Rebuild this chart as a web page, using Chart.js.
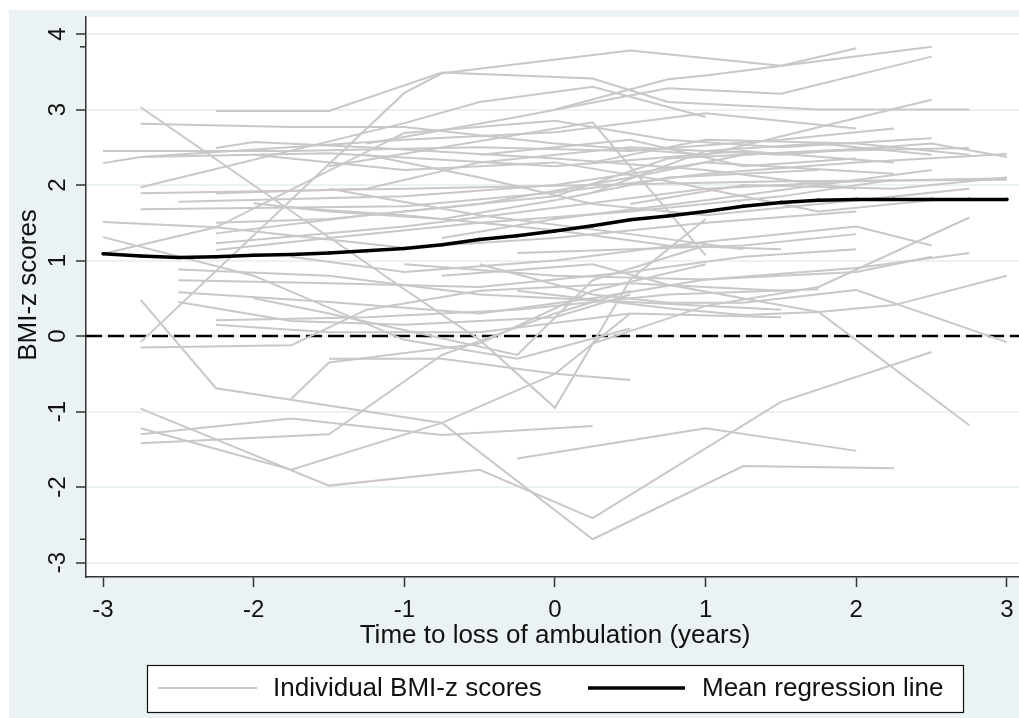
<!DOCTYPE html>
<html>
<head>
<meta charset="utf-8">
<script src="https://cdn.jsdelivr.net/npm/chart.js@4.4.1/dist/chart.umd.min.js"></script>
<style>
  html, body { margin: 0; padding: 0; background: #fff; }
  #wrap { width: 1019px; height: 718px; }
</style>
</head>
<body>
<div id="wrap"><canvas id="bmiChart" width="1019" height="718"></canvas></div>
<script>
// Tiempo hasta la pérdida de la marcha (años) de cada paciente
const subjectTimes = [
  [-2.75, -1, -0.5, 0, 0.5, 1],
  [-2.75, -1, -0.75, 0.5, 1.5, 2],
  [-2.25, -1.5, -0.75, 0.25, 0.75, 1.75, 2.75],
  [-2.75, -1.75, -1, 0, 1, 2.5],
  [0, 0.75, 1, 2.5],
  [-1.25, -0.25, 0.75, 1.5, 2.5],
  [-1.5, 0.25, 1],
  [-3, -1.75, -0.5, 0.5, 1.5, 2.25],
  [-3, -2.75, -1, 0, 1, 2],
  [-2.75, -1, -0.5, 0.25, 1],
  [-2.25, -2, -1.25, 0, 1, 2],
  [-3, -2.25, -1, 0, 0.75, 1.5, 2.5],
  [-2.75, -1.5, 0, 1.25, 2.25],
  [-2.75, -1, 0.25, 1.5, 3],
  [-2.75, -1, 0, 1, 2, 3],
  [-2.5, -1, 0, 1, 2.25],
  [-2.25, -1.25, -0.5, 0.5, 1.5, 2.5, 3],
  [-2, -1.5, -0.75, 0, 0.75, 1.75],
  [-2.25, -1.5, -0.5, 0.5, 1.25, 2.25],
  [-2.25, -1.25, 0, 0.75, 1.75, 2.75],
  [-2.25, -1, 0, 1, 2, 3],
  [-2.25, -1.5, -0.5, 0.5, 1.5, 2.25],
  [-3, -2.25, -1, 0, 1, 2],
  [-1.75, -1, 0, 0.75, 1.5],
  [-1.5, -0.5, 0.5, 1.25],
  [-1.25, -0.5, 0.25, 1, 2, 2.75],
  [-0.75, 0, 1, 1.75, 2.5],
  [-2, -1, 0, 0.75, 1.75, 2.5],
  [-0.5, 0.5, 1.25, 2],
  [0.25, 1, 1.75, 2.5],
  [-3, -2, -1, -0.25, 0.5],
  [-2.5, -1.5, -0.5, 0.5, 1.5],
  [-2.5, -1.5, -0.5, 0.5, 1.25, 2],
  [-2.5, -1.5, -0.5, 0.25, 1, 2, 2.75],
  [-2.5, -1.75, -1, 0, 0.5],
  [-2.25, -1.25, -0.25, 0.75, 1.75],
  [-2.25, -1.5, -0.5, 0.5, 1.5],
  [-2.75, -1.75, -1.25, -0.5, 0.5, 1.5],
  [-2.75, -2.25, -0.75, 0.25, 1.25, 2.25],
  [-2.75, -1.5, -0.5, 0.25, 1.5, 2.5],
  [-2.75, -1.75, -0.75, 0, 0.5],
  [-2.75, -1.75, -0.75, 0.25],
  [-2.75, -1.5, -0.75, 0, 0.5],
  [-1.75, -1.5, -0.5, 0.25, 1],
  [-0.25, 1, 2],
  [-2, -1.5, -0.25, 0.25, 1],
  [-1.5, -0.75, 0, 0.5],
  [-0.75, 0.25, 0.75, 1.75, 2.75],
  [-0.5, 0.25, 0.75, 1.25, 2, 3],
  [-0.25, 0.75, 1.25, 1.75, 2.25, 3],
  [0.25, 1, 1.75, 2.75],
  [-1, 0, 1, 2, 2.5],
  [-0.25, 0.5, 1.25, 2],
  [0.5, 1.25, 2.25, 3],
  [-1.75, -1, 0, 1, 2, 2.5],
  [0.25, 1, 2, 2.75]
];

// Puntuaciones BMI-z de cada paciente (mismo orden que subjectTimes)
const subjectScores = [
  [3.03, 0.62, -0.05, -0.95, 0.75, 1.55],
  [-0.08, 3.22, 3.48, 3.78, 3.58, 3.81],
  [2.98, 2.98, 3.49, 3.41, 3.1, 3.0, 3.0],
  [2.81, 2.77, 2.77, 2.55, 2.4, 3.13],
  [3.0, 3.4, 3.45, 3.83],
  [2.55, 2.9, 3.28, 3.21, 3.7],
  [2.25, 2.83, 1.07],
  [2.45, 2.45, 2.5, 2.45, 2.6, 2.75],
  [2.29, 2.37, 2.6, 2.7, 2.95, 2.75],
  [1.97, 2.82, 3.1, 3.3, 2.9],
  [2.49, 2.57, 2.5, 2.35, 2.2, 1.95],
  [1.09, 1.44, 2.69, 2.85, 2.6, 2.5, 2.62],
  [2.37, 2.42, 2.25, 2.45, 2.3],
  [1.89, 1.95, 2.0, 2.05, 2.07],
  [1.68, 1.72, 1.9, 2.15, 2.3, 2.41],
  [1.78, 1.85, 2.0, 2.3, 2.15],
  [1.89, 1.95, 2.3, 2.5, 2.4, 2.55, 2.37],
  [1.76, 1.65, 1.55, 1.8, 2.1, 2.2],
  [1.5, 1.55, 1.75, 2.1, 2.4, 2.5],
  [1.36, 1.6, 1.85, 2.35, 2.45, 2.49],
  [1.23, 1.45, 1.7, 1.95, 2.05, 2.09],
  [1.14, 1.3, 1.5, 1.65, 1.85, 2.07],
  [1.51, 1.44, 1.17, 1.3, 1.5, 1.65],
  [1.7, 1.6, 1.4, 1.2, 1.15],
  [1.95, 1.6, 1.35, 1.15],
  [2.4, 2.1, 1.75, 1.6, 1.8, 1.95],
  [1.3, 1.55, 1.8, 2.0, 2.2],
  [2.4, 2.2, 2.3, 2.05, 1.65, 1.8],
  [2.4, 2.6, 2.25, 2.35],
  [1.9, 2.45, 2.55, 2.4],
  [1.31, 0.8, -0.05, -0.3, 0.1],
  [0.88, 0.8, 0.55, 0.45, 0.35],
  [0.74, 0.7, 0.65, 0.85, 1.05, 1.15],
  [0.58, 0.45, 0.3, 0.5, 0.75, 0.9, 1.1],
  [0.45, 0.2, 0.15, 0.25, 0.55],
  [0.21, 0.25, 0.35, 0.55, 0.62],
  [0.15, 0.05, 0.05, 0.3, 0.25],
  [-0.15, -0.12, 0.35, 0.6, 0.7, 0.6],
  [0.48, -0.69, -1.15, -2.69, -1.72, -1.75],
  [-0.96, -1.98, -1.77, -2.41, -0.87, -0.21],
  [-1.22, -1.77, -1.15, -0.5, 0.3],
  [-1.3, -1.09, -1.31, -1.19],
  [-1.42, -1.3, -0.25, 0.3, 0.6],
  [-0.83, -0.35, -0.1, 0.6, 0.95],
  [-1.62, -1.22, -1.52],
  [0.5, 0.3, -0.25, 0.74, 1.2],
  [-0.3, -0.3, -0.5, -0.58],
  [0.8, 0.95, 0.68, 0.32, -1.18],
  [0.95, 0.55, 0.44, 0.44, 0.61, -0.08],
  [0.6, 0.37, 0.28, 0.32, 0.41, 0.8],
  [-0.1, 0.4, 0.65, 1.57],
  [0.95, 0.8, 0.75, 0.85, 1.05],
  [1.1, 1.15, 1.2, 1.35],
  [1.75, 2.0, 1.95, 2.1],
  [1.05, 0.85, 1.0, 1.25, 1.45, 1.2],
  [2.3, 2.6, 2.55, 2.4]
];

// Línea de regresión media
const meanTimes = [-3, -2.75, -2.5, -2.25, -2, -1.75, -1.5, -1.25, -1, -0.75, -0.5, -0.25, 0,
                   0.25, 0.5, 0.75, 1, 1.25, 1.5, 1.75, 2, 2.25, 2.5, 2.75, 3];
const meanScores = [1.09, 1.06, 1.04, 1.05, 1.07, 1.08, 1.1, 1.13, 1.16, 1.21, 1.28, 1.33, 1.39,
                    1.46, 1.54, 1.59, 1.65, 1.72, 1.77, 1.8, 1.81, 1.81, 1.81, 1.81, 1.81];

// Marcas de los ejes
const xTicks = [-3, -2, -1, 0, 1, 2, 3];
const yTicks = [-3, -2, -1, 0, 1, 2, 3, 4];
const referenceScore = 0;

const FONT = "'Liberation Sans', Arial, sans-serif";
const TEXT = '#111111';

// Conjuntos de datos individuales
const individualDatasets = subjectTimes.map(function(times, i) {
  return {
    label: 'Individual BMI-z scores',
    data: times.map(function(t, j) { return { x: t, y: subjectScores[i][j] }; }),
    borderColor: '#c8c8c8',
    borderWidth: 2,
    pointRadius: 0,
    showLine: true,
    fill: false,
    order: 1
  };
});

const meanDataset = {
  label: 'Mean regression line',
  data: meanTimes.map(function(t, j) { return { x: t, y: meanScores[j] }; }),
  borderColor: '#000000',
  backgroundColor: '#000000',
  borderWidth: 3.5,
  pointRadius: 1.8,
  pointBorderWidth: 0,
  showLine: true,
  fill: false,
  order: 0
};

// Fondo estilo Stata
const backgroundPlugin = {
  id: 'stataBackground',
  beforeDraw: function(chart) {
    const ctx = chart.ctx;
    const area = chart.chartArea;
    ctx.save();
    ctx.fillStyle = '#ffffff';
    ctx.fillRect(0, 0, chart.width, chart.height);
    ctx.fillStyle = '#eaf2f3';
    ctx.fillRect(9, 10, chart.width - 9, chart.height - 10);
    ctx.fillStyle = '#ffffff';
    ctx.fillRect(area.left, area.top, area.right - area.left, area.bottom - area.top);
    ctx.restore();
  },
  beforeDatasetsDraw: function(chart) {
    // Línea de referencia discontinua en 0
    const ctx = chart.ctx;
    const area = chart.chartArea;
    const y = chart.scales.y.getPixelForValue(referenceScore);
    ctx.save();
    ctx.strokeStyle = '#000000';
    ctx.lineWidth = 2.5;
    ctx.setLineDash([16, 6]);
    ctx.beginPath();
    ctx.moveTo(area.left, y);
    ctx.lineTo(area.right, y);
    ctx.stroke();
    ctx.restore();
  }
};

// Etiquetas, títulos y leyenda dibujados a mano
const labelsPlugin = {
  id: 'stataLabels',
  afterDraw: function(chart) {
    const ctx = chart.ctx;
    const yScale = chart.scales.y;
    const area = chart.chartArea;
    ctx.save();
    ctx.fillStyle = TEXT;
    ctx.textAlign = 'center';
    ctx.textBaseline = 'middle';

    // etiquetas del eje y (giradas)
    ctx.font = '24px ' + FONT;
    yTicks.forEach(function(v) {
      ctx.save();
      ctx.translate(57, yScale.getPixelForValue(v));
      ctx.rotate(-Math.PI / 2);
      ctx.fillText(String(v), 0, 1);
      ctx.restore();
    });

    // marcas cortas en el mínimo y máximo observados
    const allScores = [].concat.apply([], subjectScores);
    const extremes = [Math.max.apply(null, allScores), Math.min.apply(null, allScores)];
    ctx.strokeStyle = '#333333';
    ctx.lineWidth = 1.5;
    extremes.forEach(function(v) {
      const py = yScale.getPixelForValue(v);
      ctx.beginPath();
      ctx.moveTo(area.left - 6, py);
      ctx.lineTo(area.left, py);
      ctx.stroke();
    });

    // títulos de los ejes
    ctx.font = '26px ' + FONT;
    ctx.save();
    ctx.translate(29, 285);
    ctx.rotate(-Math.PI / 2);
    ctx.fillText('BMI-z scores', 0, 0);
    ctx.restore();
    ctx.fillText('Time to loss of ambulation (years)', 555, 636);

    // leyenda
    ctx.fillStyle = '#ffffff';
    ctx.fillRect(147, 665, 816, 47);
    ctx.strokeStyle = '#111111';
    ctx.lineWidth = 1.2;
    ctx.strokeRect(147.5, 665.5, 816, 47);

    ctx.strokeStyle = '#c8c8c8';
    ctx.lineWidth = 2;
    ctx.beginPath();
    ctx.moveTo(158, 688);
    ctx.lineTo(257, 688);
    ctx.stroke();

    ctx.strokeStyle = '#000000';
    ctx.lineWidth = 3.5;
    ctx.beginPath();
    ctx.moveTo(588, 688);
    ctx.lineTo(685, 688);
    ctx.stroke();

    ctx.fillStyle = TEXT;
    ctx.textAlign = 'left';
    ctx.fillText('Individual BMI-z scores', 273, 689);
    ctx.fillText('Mean regression line', 702, 689);
    ctx.restore();
  }
};

const ctx = document.getElementById('bmiChart').getContext('2d');
const bmiChart = new Chart(ctx, {
  type: 'scatter',
  data: {
    datasets: individualDatasets.concat([meanDataset])
  },
  options: {
    responsive: false,
    animation: false,
    devicePixelRatio: 1,
    layout: { autoPadding: false, padding: { top: 17, left: 0, right: 0, bottom: 0 } },
    plugins: {
      legend: { display: false },
      tooltip: { enabled: false }
    },
    scales: {
      x: {
        type: 'linear',
        min: -3.113,
        max: 3.08,
        afterBuildTicks: function(scale) {
          scale.ticks = xTicks.map(function(v) { return { value: v }; });
        },
        afterFit: function(scale) {
          scale.height = 141;
          scale.paddingLeft = 0;
          scale.paddingRight = 0;
        },
        ticks: {
          font: { family: FONT, size: 24 },
          color: TEXT,
          padding: 9,
          maxRotation: 0,
          autoSkip: false
        },
        grid: {
          drawOnChartArea: false,
          drawTicks: true,
          tickLength: 10,
          tickColor: '#333333',
          tickWidth: 1.5
        },
        border: { color: '#333333', width: 1.5 }
      },
      y: {
        type: 'linear',
        min: -3.19,
        max: 4.225,
        afterBuildTicks: function(scale) {
          scale.ticks = yTicks.map(function(v) { return { value: v }; });
        },
        afterFit: function(scale) {
          scale.width = 86;
          scale.paddingTop = 0;
          scale.paddingBottom = 0;
        },
        ticks: { display: false },
        grid: {
          color: '#eaf2f3',
          lineWidth: 2,
          drawTicks: true,
          tickLength: 10,
          tickColor: '#333333',
          tickWidth: 1.5
        },
        border: { color: '#333333', width: 1.5 }
      }
    }
  },
  plugins: [backgroundPlugin, labelsPlugin]
});
</script>
</body>
</html>
